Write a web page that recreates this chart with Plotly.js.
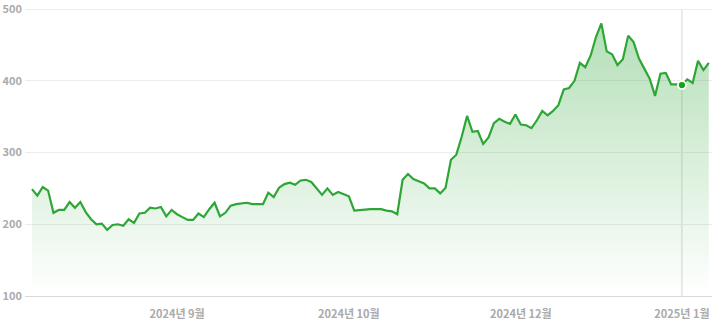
<!DOCTYPE html>
<html>
<head>
<meta charset="utf-8">
<script src="https://cdn.plot.ly/plotly-3.0.1.min.js"></script>
<style>
  html, body { margin: 0; padding: 0; background: #ffffff; }
  #chart { width: 712px; height: 322px; }
</style>
</head>
<body>
<div id="chart"></div>
<script>
// Price series (one value per trading day)
const prices = [
  249, 240, 252, 247, 216, 220, 220, 231, 223, 231,
  217, 207, 200, 201, 192, 199, 200, 198, 207, 202,
  215, 216, 223, 222, 224, 211, 220, 214, 210, 206,
  206, 215, 210, 221, 230, 211, 216, 226, 228, 229,
  230, 228, 228, 228, 244, 238, 251, 256, 258, 255,
  261, 262, 259, 250, 241, 250, 241, 245, 242, 239,
  219, 220, 220, 221, 221, 221, 219, 218, 214, 262,
  270, 263, 260, 257, 250, 250, 243, 251, 290, 297,
  322, 351, 329, 330, 312, 321, 341, 347, 343, 340,
  353, 339, 338, 334, 345, 358, 352, 358, 366, 388,
  390, 400, 425, 419, 435, 461, 480, 441, 437, 422,
  430, 463, 454, 431, 417, 403, 379, 410, 411, 395,
  395, 394, 402, 397, 428, 415, 425
];
// Month tick labels and the day index where each appears
const monthLabels = ["2024년 9월", "2024년 10월", "2024년 12월", "2025년 1월"];
const monthIndex = [27, 59, 91, 121];
// Highlighted (hovered) day
const highlightIndex = 121;
// Y ticks
const yTicks = [100, 200, 300, 400, 500];

const xs = prices.map((_, i) => i);
const green = "#2ea636";

const traces = [
  {
    type: "scatter",
    mode: "lines",
    x: xs,
    y: prices,
    line: { color: green, width: 2.2, shape: "linear" },
    fill: "tozeroy",
    fillgradient: {
      type: "vertical",
      start: 100,
      stop: 480,
      colorscale: [[0, "rgba(46,166,55,0.0)"], [1, "rgba(46,166,55,0.36)"]]
    },
    hoverinfo: "skip"
  },
  {
    type: "scatter",
    mode: "markers",
    x: [highlightIndex],
    y: [prices[highlightIndex]],
    marker: { color: "#14a514", size: 8, line: { color: "#ffffff", width: 1.8 } },
    hoverinfo: "skip"
  }
];

const tickFont = { family: "'Noto Sans CJK KR', 'Noto Sans', sans-serif", size: 11, color: "#aaaaaa", weight: 700 };

const layout = {
  width: 712,
  height: 322,
  margin: { l: 25, r: 0, t: 8, b: 26 },
  paper_bgcolor: "#ffffff",
  plot_bgcolor: "#ffffff",
  showlegend: false,
  xaxis: {
    range: [-1.3, 126.6],
    tickmode: "array",
    tickvals: monthIndex,
    ticktext: monthLabels,
    showgrid: false,
    zeroline: false,
    showline: true,
    linecolor: "#d9d9d9",
    linewidth: 1,
    ticks: "",
    ticklabelstandoff: 8,
    ticklabeloverflow: "allow",
    tickfont: tickFont,
    fixedrange: true
  },
  yaxis: {
    range: [100, 501.5],
    tickmode: "array",
    tickvals: yTicks,
    ticktext: yTicks.map(String),
    showgrid: true,
    gridcolor: "#ececec",
    gridwidth: 1,
    zeroline: false,
    showline: false,
    ticks: "",
    ticklabelstandoff: 2,
    ticklabeloverflow: "allow",
    tickfont: tickFont,
    fixedrange: true
  },
  shapes: [
    {
      type: "line",
      xref: "x", yref: "y",
      x0: highlightIndex, x1: highlightIndex,
      y0: 100, y1: 500,
      line: { color: "#d6d6d6", width: 1 },
      layer: "below"
    }
  ]
};

Plotly.newPlot("chart", traces, layout, { displayModeBar: false, staticPlot: true });
</script>
</body>
</html>
